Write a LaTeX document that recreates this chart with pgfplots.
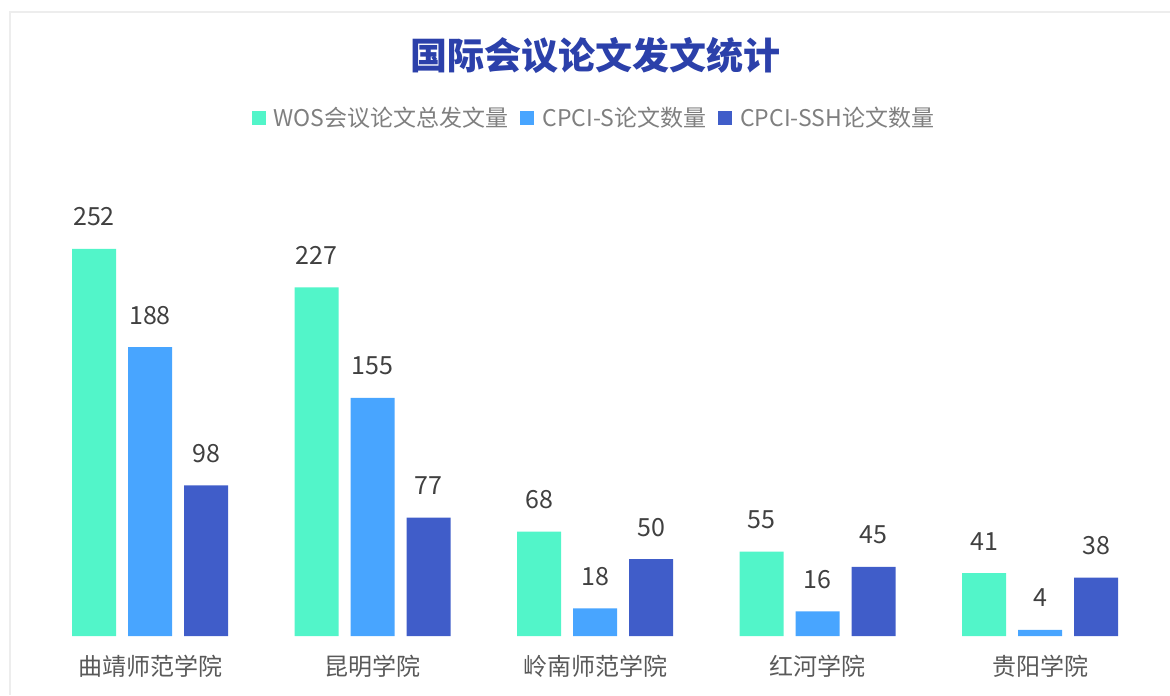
\documentclass[border=0pt]{standalone}
\usepackage{fontspec}
\setmainfont{Noto Sans CJK SC}
\usepackage{pgfplots}
\pgfplotsset{compat=1.18}
\definecolor{cgreen}{HTML}{52F5C9}
\definecolor{clblue}{HTML}{48A5FF}
\definecolor{cdblue}{HTML}{405DC9}
\definecolor{ctitle}{HTML}{2B40AA}
\definecolor{clegend}{HTML}{7F7F7F}
\definecolor{ccat}{HTML}{595959}
\definecolor{clab}{HTML}{404040}
\begin{document}
\begin{tikzpicture}
\path[use as bounding box] (0,0) rectangle (585pt,347.5pt);
\draw[color=black!7, line width=0.8pt] (5pt,0) -- (5pt,341.5pt) -- (585pt,341.5pt);
\begin{axis}[
  at={(0pt,29.5pt)}, anchor=south west,
  x=111.25pt, y=0.768pt,
  xmin=-0.6742, xmax=4.5843, ymin=0, ymax=414,
  enlargelimits=false, clip=false,
  axis line style={draw=none},
  major tick length=0pt,
  ytick=\empty,
  xtick={0,1,2,3,4},
  xticklabels={曲靖师范学院,昆明学院,岭南师范学院,红河学院,贵阳学院},
  xticklabel style={font=\fontsize{12}{12}\selectfont, text=ccat, anchor=base, yshift=-19.5pt},
  ybar, bar width=22pt,
  nodes near coords,
  nodes near coords style={font=\fontsize{12.5}{12.5}\selectfont, text=clab, anchor=base, inner sep=0pt, yshift=11.5pt, /pgf/number format/assume math mode=true},
  legend columns=3,
  legend style={at={(axis description cs:0.5085,0.8145)}, anchor=center, draw=none, fill=none,
    font=\fontsize{11.5}{11.5}\selectfont, text=clegend,
    /tikz/every even column/.append style={column sep=4pt},
    /tikz/every odd column/.append style={column sep=2pt}},
  legend image code/.code={\fill[#1] (0pt,-3.5pt) rectangle (7pt,3.5pt);},
]
\addplot[fill=cgreen, draw=none, bar shift=-28pt] coordinates {(0,252) (1,227) (2,68) (3,55) (4,41)};
\addplot[fill=clblue, draw=none, bar shift=0pt] coordinates {(0,188) (1,155) (2,18) (3,16) (4,4)};
\addplot[fill=cdblue, draw=none, bar shift=28pt] coordinates {(0,98) (1,77) (2,50) (3,45) (4,38)};
\legend{WOS会议论文总发文量,CPCI-S论文数量,CPCI-SSH论文数量}
\end{axis}
\node[font=\fontsize{18.5}{18.5}\selectfont\bfseries, text=ctitle] at (297.5pt,320pt) {国际会议论文发文统计};
\end{tikzpicture}
\end{document}
